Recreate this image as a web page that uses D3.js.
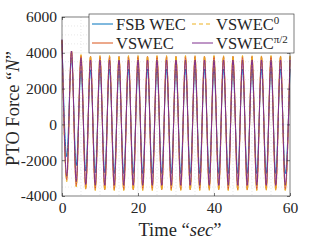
<!DOCTYPE html>
<html>
<head>
<meta charset="utf-8">
<script src="https://cdn.jsdelivr.net/npm/d3@7"></script>
<style>
  body { margin: 0; background: #fff; }
  text { font-family: "Liberation Serif", serif; fill: #262626; }
</style>
</head>
<body>
<div id="chart"></div>
<script>
// times of the peaks / troughs (sec)
var extremaTimes = [0, 1.25, 2.5, 3.75, 5, 6.25, 7.5, 8.75, 10, 11.25, 12.5, 13.75, 15, 16.25, 17.5, 18.75,
    20, 21.25, 22.5, 23.75, 25, 26.25, 27.5, 28.75, 30, 31.25, 32.5, 33.75, 35, 36.25, 37.5, 38.75,
    40, 41.25, 42.5, 43.75, 45, 46.25, 47.5, 48.75, 50, 51.25, 52.5, 53.75, 55, 56.25, 57.5, 58.75, 60];

var fsbWec = [4700, -1800, 3700, -2300, 3000, -2600, 3050, -2700, 3100, -2700, 3100, -2750, 3100, -2750,
    3100, -2750, 3100, -2750, 3100, -2750, 3100, -2750, 3100, -2750, 3100, -2750, 3100, -2750, 3100, -2750,
    3100, -2750, 3100, -2750, 3100, -2750, 3100, -2750, 3100, -2750, 3100, -2750, 3100, -2750, 3100, -2750,
    3100, -2750, 3100];
var vswec = [4700, -3100, 4100, -3450, 3850, -3600, 3800, -3650, 3800, -3650, 3800, -3650, 3800, -3650,
    3800, -3650, 3800, -3650, 3800, -3650, 3800, -3650, 3800, -3650, 3800, -3650, 3800, -3650, 3800, -3650,
    3800, -3650, 3800, -3650, 3800, -3650, 3800, -3650, 3800, -3650, 3800, -3650, 3800, -3650, 3800, -3650,
    3800, -3650, 3800];
var vswec0 = [4700, -3200, 4100, -3500, 3900, -3650, 3850, -3700, 3850, -3700, 3850, -3700, 3850, -3700,
    3850, -3700, 3850, -3700, 3850, -3700, 3850, -3700, 3850, -3700, 3850, -3700, 3850, -3700, 3850, -3700,
    3850, -3700, 3850, -3700, 3850, -3700, 3850, -3700, 3850, -3700, 3850, -3700, 3850, -3700, 3850, -3700,
    3850, -3700, 3850];
var vswecPi2 = [4750, -2900, 4100, -3200, 3700, -3350, 3600, -3400, 3600, -3400, 3600, -3400, 3600, -3400,
    3600, -3400, 3600, -3400, 3600, -3400, 3600, -3400, 3600, -3400, 3600, -3400, 3600, -3400, 3600, -3400,
    3600, -3400, 3600, -3400, 3600, -3400, 3600, -3400, 3600, -3400, 3600, -3400, 3600, -3400, 3600, -3400,
    3600, -3400, 3600];

var xTicks = [0, 20, 40, 60];
var yTicks = [-4000, -2000, 0, 2000, 4000, 6000];

var series = [
    { name: 'FSB WEC', sup: '', values: fsbWec, color: '#0072BD', dash: null },
    { name: 'VSWEC', sup: '', values: vswec, color: '#D95319', dash: null },
    { name: 'VSWEC', sup: '0', values: vswec0, color: '#EDB120', dash: '4,3' },
    { name: 'VSWEC', sup: 'π/2', values: vswecPi2, color: '#7E2F8E', dash: null }
];

var width = 321, height = 241;
var margin = { top: 17, right: 31, bottom: 45, left: 62 };
var w = width - margin.left - margin.right,
    h = height - margin.top - margin.bottom;

var svg = d3.select('#chart').append('svg')
    .attr('width', width)
    .attr('height', height);

var g = svg.append('g')
    .attr('transform', 'translate(' + margin.left + ',' + margin.top + ')');

var x = d3.scaleLinear().domain([0, 60]).range([0, w]);
var y = d3.scaleLinear().domain([-4000, 6000]).range([h, 0]);

// minor grid (dotted)
g.append('g').selectAll('line')
    .data(d3.range(5, 60, 5).filter(function (d) { return d % 20 !== 0; }))
    .enter().append('line')
    .attr('x1', function (d) { return x(d); }).attr('x2', function (d) { return x(d); })
    .attr('y1', 0).attr('y2', h)
    .attr('stroke', '#d8d8d8').attr('stroke-width', 0.6).attr('stroke-dasharray', '1,2');
g.append('g').selectAll('line')
    .data(d3.range(-3500, 6000, 500).filter(function (d) { return d % 2000 !== 0; }))
    .enter().append('line')
    .attr('y1', function (d) { return y(d); }).attr('y2', function (d) { return y(d); })
    .attr('x1', 0).attr('x2', w)
    .attr('stroke', '#d8d8d8').attr('stroke-width', 0.6).attr('stroke-dasharray', '1,2');

// major grid
g.append('g').selectAll('line')
    .data(xTicks.slice(1, -1))
    .enter().append('line')
    .attr('x1', function (d) { return x(d); }).attr('x2', function (d) { return x(d); })
    .attr('y1', 0).attr('y2', h)
    .attr('stroke', '#e6e6e6').attr('stroke-width', 0.6);
g.append('g').selectAll('line')
    .data(yTicks.slice(1, -1))
    .enter().append('line')
    .attr('y1', function (d) { return y(d); }).attr('y2', function (d) { return y(d); })
    .attr('x1', 0).attr('x2', w)
    .attr('stroke', '#e6e6e6').attr('stroke-width', 0.6);

// lines
var line = d3.line()
    .x(function (d) { return x(d[0]); })
    .y(function (d) { return y(d[1]); })
    .curve(d3.curveMonotoneX);

series.forEach(function (s) {
    g.append('path')
        .datum(extremaTimes.map(function (t, i) { return [t, s.values[i]]; }))
        .attr('d', line)
        .attr('fill', 'none')
        .attr('stroke', s.color)
        .attr('stroke-width', 1)
        .attr('stroke-dasharray', s.dash);
});

// axes
var fmt = function (d) { return String(d); };
var xAxis = g.append('g')
    .attr('transform', 'translate(0,' + h + ')')
    .call(d3.axisBottom(x).tickValues(xTicks).tickFormat(fmt).tickSize(-3).tickPadding(6));
var yAxis = g.append('g')
    .call(d3.axisLeft(y).tickValues(yTicks).tickFormat(fmt).tickSize(-3).tickPadding(5));
[xAxis, yAxis].forEach(function (a) {
    a.selectAll('text').style('font-size', '15.5px').style('fill', '#262626')
        .style('font-family', '"Liberation Serif", serif');
    a.selectAll('line').attr('stroke', '#262626').attr('stroke-width', 0.6);
    a.select('.domain').remove();
});
g.append('g').call(d3.axisTop(x).tickValues(xTicks).tickSize(-3).tickFormat(''))
    .call(function (a) { a.select('.domain').remove(); a.selectAll('line').attr('stroke', '#262626').attr('stroke-width', 0.6); });
g.append('g').attr('transform', 'translate(' + w + ',0)')
    .call(d3.axisRight(y).tickValues(yTicks).tickSize(-3).tickFormat(''))
    .call(function (a) { a.select('.domain').remove(); a.selectAll('line').attr('stroke', '#262626').attr('stroke-width', 0.6); });

g.append('rect')
    .attr('width', w).attr('height', h)
    .attr('fill', 'none')
    .attr('stroke', '#262626')
    .attr('stroke-width', 0.6);

// axis labels
var xl = svg.append('text')
    .attr('x', margin.left + w / 2 + 4)
    .attr('y', 236)
    .attr('text-anchor', 'middle')
    .style('font-size', '18.5px');
xl.append('tspan').text('Time \u201c');
xl.append('tspan').style('font-style', 'italic').text('sec');
xl.append('tspan').text('\u201d');

var yl = svg.append('text')
    .attr('transform', 'translate(19,' + (margin.top + h / 2 + 2) + ') rotate(-90)')
    .attr('text-anchor', 'middle')
    .style('font-size', '18.5px');
yl.append('tspan').text('PTO Force \u201c');
yl.append('tspan').style('font-style', 'italic').text('N');
yl.append('tspan').text('\u201d');

// legend
var legend = svg.append('g').attr('transform', 'translate(89,14)');
legend.append('rect')
    .attr('width', 205).attr('height', 39)
    .attr('fill', '#fff')
    .attr('stroke', '#262626')
    .attr('stroke-width', 0.6);

var legendPos = [[0, 0], [0, 1], [1, 0], [1, 1]];
series.forEach(function (s, i) {
    var col = legendPos[i][0], row = legendPos[i][1];
    var lg = legend.append('g')
        .attr('transform', 'translate(' + (3 + col * 100) + ',' + (10 + row * 19) + ')');
    lg.append('line')
        .attr('x1', 0).attr('x2', 21)
        .attr('stroke', s.color)
        .attr('stroke-width', 1)
        .attr('stroke-dasharray', s.dash);
    var t = lg.append('text')
        .attr('x', 24).attr('y', 5.5)
        .style('font-size', '16.5px')
        .text(s.name);
    if (s.sup) {
        t.append('tspan')
            .attr('dy', -6)
            .style('font-size', '11px')
            .text(s.sup);
    }
});
</script>
</body>
</html>
